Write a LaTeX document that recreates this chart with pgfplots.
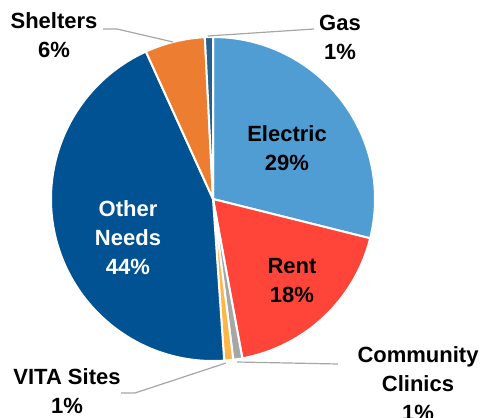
\documentclass[border=0pt]{standalone}
\usepackage{pgfplots}
\usepackage{pgfplotstable}
\pgfplotsset{compat=1.18}
\usepackage{fontspec}
\setmainfont{Liberation Sans}
\definecolor{c0}{RGB}{79,157,210}
\definecolor{c1}{RGB}{255,69,58}
\definecolor{c2}{RGB}{166,166,166}
\definecolor{c3}{RGB}{255,182,72}
\definecolor{c4}{RGB}{0,82,147}
\definecolor{c5}{RGB}{237,125,49}
\definecolor{c6}{RGB}{38,96,140}
\definecolor{leader}{RGB}{166,166,166}
\pgfplotstableread{
label value
Electric 28.9
Rent 18.2
Clinics 0.9
VITA 0.9
Other 44.3
Shelters 6.0
Gas 0.8
}\piedata
\begin{document}
\begin{tikzpicture}
\def\cum{0}
\pgfplotsforeachungrouped \i in {0,...,6}{%
  \pgfplotstablegetelem{\i}{value}\of\piedata
  \expandafter\xdef\csname sA\i\endcsname{\cum}%
  \pgfmathsetmacro\cum{\cum+\pgfplotsretval}%
  \expandafter\xdef\csname sB\i\endcsname{\cum}%
}
\begin{axis}[name=ax, scale only axis, width=482bp, height=418bp,
  xmin=0, xmax=482, ymin=0, ymax=418, enlargelimits=false,
  hide axis, clip=false]
\pgfplotsinvokeforeach{0,...,6}{%
  \fill[c#1, draw=white, line width=2bp] (axis cs:213,219) -- ++({90-3.6*\csname sA#1\endcsname}:162bp)
    arc[start angle={90-3.6*\csname sA#1\endcsname}, end angle={90-3.6*\csname sB#1\endcsname}, radius=162bp] -- cycle;
}
\draw[leader, line width=1.2bp] (axis cs:103,389) -- (axis cs:117,389) -- (axis cs:173,376);
\draw[leader, line width=1.2bp] (axis cs:208,382) -- (axis cs:314,389);
\draw[leader, line width=1.2bp] (axis cs:121,25) -- (axis cs:135,25) -- (axis cs:226,55);
\draw[leader, line width=1.2bp] (axis cs:237,56) -- (axis cs:338,54);
\tikzset{lab/.style={align=center, inner sep=0pt, font=\fontsize{22bp}{29bp}\selectfont\bfseries}}
\node[lab] at (axis cs:287,270) {Electric\\29\%};
\node[lab] at (axis cs:292,137) {Rent\\18\%};
\node[lab, text=white] at (axis cs:128,180) {Other\\Needs\\44\%};
\node[lab] at (axis cs:54,383) {Shelters\\6\%};
\node[lab] at (axis cs:340,381) {Gas\\1\%};
\node[lab] at (axis cs:418,34) {Community\\Clinics\\1\%};
\node[lab] at (axis cs:67,26.5) {VITA Sites\\1\%};
\end{axis}
\pgfresetboundingbox
\path[use as bounding box] (ax.south west) rectangle (ax.north east);
\end{tikzpicture}
\end{document}
